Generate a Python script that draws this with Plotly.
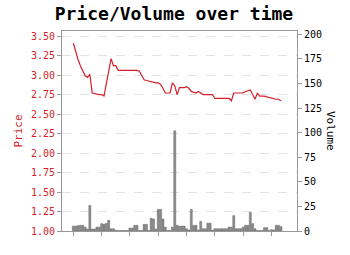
import plotly.graph_objects as go

# Data, one entry per period
period_index = list(range(89))
price = [3.41, 3.30, 3.20, 3.12, 3.05, 2.99, 2.97, 3.01, 2.77, 2.76,
         2.76, 2.75, 2.75, 2.73, 2.89, 3.05, 3.21, 3.12, 3.12, 3.06,
         3.06, 3.06, 3.06, 3.06, 3.06, 3.06, 3.06, 3.06, 3.05, 3.00,
         2.94, 2.93, 2.92, 2.91, 2.91, 2.90, 2.90, 2.88, 2.83, 2.77,
         2.77, 2.77, 2.90, 2.86, 2.75, 2.84, 2.84, 2.84, 2.85, 2.83,
         2.79, 2.78, 2.77, 2.79, 2.77, 2.75, 2.75, 2.75, 2.75, 2.75,
         2.70, 2.70, 2.70, 2.70, 2.70, 2.70, 2.70, 2.67, 2.77, 2.77,
         2.77, 2.77, 2.77, 2.79, 2.80, 2.81, 2.75, 2.69, 2.77, 2.73,
         2.73, 2.73, 2.72, 2.71, 2.70, 2.70, 2.69, 2.69, 2.67]
volume = [5.0, 5.0, 5.4, 5.8, 5.8, 4.0, 2.0, 26.0, 2.0, 2.0,
          4.0, 4.0, 7.5, 6.8, 7.7, 11.0, 2.3, 2.3, 0.8, 0.5,
          0.5, 0.5, 0.5, 0.5, 3.0, 3.0, 5.8, 5.8, 0.5, 0.5,
          6.8, 6.8, 0.5, 12.9, 12.2, 2.0, 22.0, 22.0, 12.2, 4.0,
          0.5, 0.5, 4.0, 102.0, 5.8, 5.0, 5.0, 5.0, 2.3, 1.0,
          22.0, 5.8, 5.8, 1.0, 9.8, 2.3, 2.3, 8.0, 8.0, 1.0,
          2.3, 2.3, 2.3, 2.3, 2.3, 2.3, 4.0, 4.0, 15.6, 2.3,
          2.3, 2.3, 4.0, 5.8, 5.8, 19.0, 7.5, 2.3, 0.5, 0.5,
          0.5, 3.4, 3.4, 0.5, 1.4, 1.0, 5.8, 5.8, 4.4]
price_ticks = [1.00, 1.25, 1.50, 1.75, 2.00, 2.25, 2.50, 2.75, 3.00, 3.25, 3.50]
volume_ticks = [0, 25, 50, 75, 100, 125, 150, 175, 200]
x_ticks = [0, 12, 24, 36, 48, 60, 72, 84]

RED = "#d41f2a"
AXIS = "#999999"
FONT = "DejaVu Sans Mono"

fig = go.Figure()
fig.add_trace(go.Bar(
    x=period_index, y=volume, yaxis="y2",
    marker=dict(color="#8a8a8a", line=dict(color="#6e6e6e", width=0.5)),
    name="Volume", showlegend=False))
fig.add_trace(go.Scatter(
    x=period_index, y=price, mode="lines",
    line=dict(color=RED, width=1.2),
    name="Price", showlegend=False))

fig.update_layout(
    width=350, height=255,
    margin=dict(l=62, r=53, t=31, b=24),
    paper_bgcolor="white", plot_bgcolor="white",
    bargap=0.15,
    font=dict(family=FONT, size=10, color="black"),
    title=dict(text="<b>Price/Volume over time</b>",
               font=dict(family=FONT, size=18, color="black"),
               x=0.497, xanchor="center", y=0.945, yanchor="middle"),
    xaxis=dict(range=[-4.8, 94.8], tickvals=x_ticks, showticklabels=False,
               ticks="outside", ticklen=4, tickcolor=AXIS,
               showline=True, linecolor=AXIS, linewidth=1, mirror=True,
               showgrid=False, zeroline=False),
    yaxis=dict(range=[1.0, 3.565], tickvals=price_ticks, tickformat=".2f",
               tickfont=dict(family=FONT, size=10, color=RED),
               ticks="outside", ticklen=4, tickcolor=AXIS,
               showline=True, linecolor=AXIS, linewidth=1,
               showgrid=True, gridcolor="#e2e2e2", griddash="dash", gridwidth=1,
               zeroline=False,
               title=dict(text="Price", font=dict(family=FONT, size=11, color=RED),
                          standoff=6)),
    yaxis2=dict(range=[0, 203.4], tickvals=volume_ticks, overlaying="y", side="right",
                tickfont=dict(family=FONT, size=10, color="black"),
                ticks="outside", ticklen=4, tickcolor=AXIS,
                showline=True, linecolor=AXIS, linewidth=1,
                showgrid=False, zeroline=False),
    annotations=[dict(text="Volume", textangle=90, xref="paper", yref="paper",
                      x=1.145, y=0.5, xanchor="center", yanchor="middle",
                      showarrow=False, font=dict(family=FONT, size=11, color="black"))],
)

fig.write_html("out.html")
